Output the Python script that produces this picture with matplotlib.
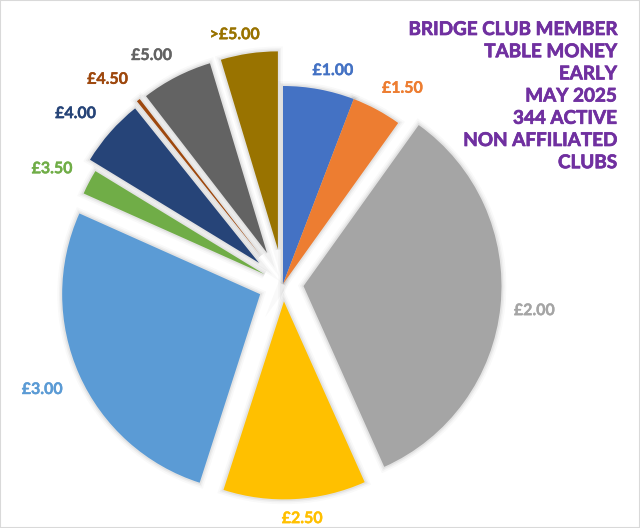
import matplotlib
matplotlib.use('Agg')
import matplotlib.pyplot as plt
import numpy as np
from matplotlib.patches import Wedge, Rectangle
from matplotlib import font_manager as fm
import matplotlib.patheffects as pe

# ---- data ----
categories = ['£1.00', '£1.50', '£2.00', '£2.50', '£3.00', '£3.50', '£4.00', '£4.50', '£5.00', '>£5.00']
clubs = [20, 14, 115, 40, 92, 7, 19, 1, 20, 16]
title_lines = ['BRIDGE CLUB MEMBER', 'TABLE MONEY', 'EARLY', 'MAY 2025',
               '344 ACTIVE', 'NON AFFILIATED', 'CLUBS']

# ---- style ----
colors = ['#4472C4', '#ED7D31', '#A5A5A5', '#FFC000', '#5B9BD5',
          '#70AD47', '#264478', '#9E480E', '#636363', '#997300']
R = 198
explode_px = [0, 0, 20.6, 17.4, 25, 21, 32, 36, 35, 35]


def fprops(size):
    return fm.FontProperties(family=['Lato', 'DejaVu Sans'], weight='bold', size=size)


def effects(color, w):
    return [pe.withStroke(linewidth=w, foreground=color)]


W, H = 640, 528
fig = plt.figure(figsize=(6.4, 5.28), dpi=100)
ax = fig.add_axes([0, 0, 1, 1])
cx, cy = 283, H - 284
wedges, _ = ax.pie(clubs, colors=colors, explode=explode_px, startangle=90,
                   counterclock=False, radius=R, center=(cx, cy),
                   wedgeprops=dict(linewidth=0))
ax.set_xlim(0, W)
ax.set_ylim(0, H)
ax.set_aspect('equal')
ax.axis('off')

# soft shadow around each slice
for w in wedges:
    for lw, a in [(7, 0.025), (4.5, 0.035), (2.5, 0.05)]:
        s = Wedge(w.center, w.r, w.theta1, w.theta2, facecolor='none',
                  edgecolor='black', linewidth=lw, alpha=a, zorder=w.get_zorder() - 0.5)
        ax.add_patch(s)

# data labels outside each slice ("outside end" style placement)
fig.canvas.draw()
rend = fig.canvas.get_renderer()
gap = 11
for w, lab, col in zip(wedges, categories, colors):
    t = ax.text(0, 0, lab, color=col, fontproperties=fprops(11.5),
                ha='center', va='center', path_effects=effects(col, 0.25))
    bb = t.get_window_extent(rend)
    hw, hh = bb.width / 2, bb.height / 2 * 0.85
    mid = np.deg2rad((w.theta1 + w.theta2) / 2)
    ux, uy = np.cos(mid), np.sin(mid)
    ext = hw * abs(ux) + hh * abs(uy)
    d = w.r + gap + ext
    sx = hw * np.sign(ux) * abs(ux) ** 0.4 * abs(uy)
    t.set_position((w.center[0] + d * ux + sx, w.center[1] + d * uy - 2))

# title block
for i, line in enumerate(title_lines):
    ax.text(617, H - (35 + i * 22.2), line, ha='right', va='baseline',
            fontproperties=fprops(13.6), color='#7030A0',
            path_effects=effects('#7030A0', 0.5))

fig.patches.append(Rectangle((0, 0), 1, 1, transform=fig.transFigure, fill=False,
                             edgecolor='#D9D9D9', linewidth=1.5))
fig.savefig('out.png', dpi=100)
